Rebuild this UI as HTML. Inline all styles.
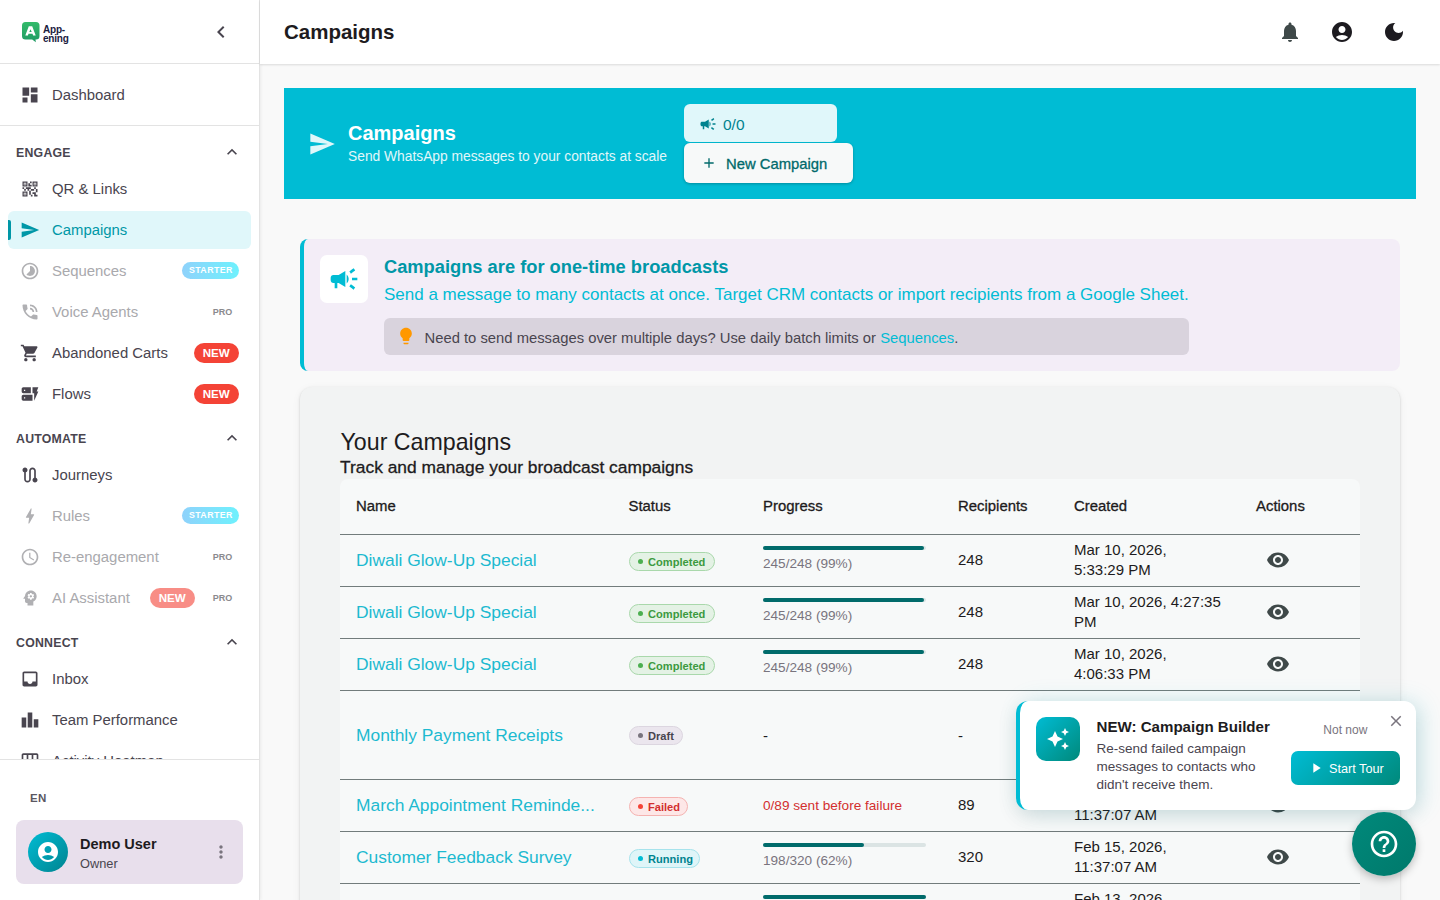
<!DOCTYPE html>
<html><head><meta charset="utf-8">
<style>
*{box-sizing:border-box;margin:0;padding:0}
html,body{width:1440px;height:900px;overflow:hidden;font-family:"Liberation Sans",sans-serif;background:#f9f9f9;color:#1d1b20}
svg{display:block}
#side{position:absolute;left:0;top:0;width:260px;height:900px;background:#fff;border-right:1px solid #e3e3e3;box-shadow:1px 0 3px rgba(0,0,0,.06);z-index:2}
#side .hd{position:absolute;left:0;top:0;width:259px;height:64px;border-bottom:1px solid #e3e3e3}
.nav{position:absolute;left:0;width:259px}
.it{position:absolute;left:8px;width:243px;height:38px;border-radius:6px}
.it svg{position:absolute;left:12px;top:9px;width:20px;height:20px;fill:#49454f}
.it .t{position:absolute;left:44px;top:0;line-height:38px;font-size:14.9px;color:#49454f;white-space:nowrap}
.it.dis svg{fill:#b0b0b3}
.it.dis .t{color:#a9a9ad}
.sec{position:absolute;left:16px;font-size:12.3px;font-weight:bold;letter-spacing:.25px;color:#49454f;margin-top:1.5px}
.chev{position:absolute;left:222px;margin-top:1px;width:20px;height:20px;fill:#49454f}
.badge-new{position:absolute;height:20px;line-height:20px;border-radius:10px;background:#f44336;color:#fff;font-size:11.6px;font-weight:bold;padding:0 8.75px;top:9px}
.badge-st{position:absolute;right:12px;top:10px;height:17px;line-height:17px;border-radius:9px;background:linear-gradient(90deg,#8fd2fb,#6ef1fd);color:#fff;font-size:8.8px;font-weight:bold;letter-spacing:.43px;padding:0 6.2px 0 6.7px}
.badge-pro{position:absolute;right:18.7px;top:0;line-height:38px;font-size:9px;font-weight:bold;letter-spacing:0;color:#8a8a8e}
#top{position:absolute;left:260px;top:0;width:1180px;height:64px;background:#fff;box-shadow:0 1px 2px rgba(0,0,0,.12);z-index:3}
#top h1{position:absolute;left:24px;top:0;line-height:64px;font-size:20.5px;font-weight:bold;color:#1d1b20}
.it.act{background:#e0f7fa}
.it.act svg{fill:#0097a7}
.it.act .t{color:#0097a7}
.it.act .bar{position:absolute;left:0;top:9px;width:3px;height:20px;background:#0097a7;border-radius:0 2px 2px 0}
.tx{position:absolute;white-space:nowrap}
.ic{position:absolute;display:block}
.bx{position:absolute;box-sizing:border-box}
</style></head>
<body>
<div id="side">
  <div class="hd">
    <svg style="position:absolute;left:21px;top:21px" width="50" height="24" viewBox="0 0 50 24">
      <defs><linearGradient id="lg" x1="0" y1="0" x2="0" y2="1"><stop offset="0" stop-color="#33bb6a"/><stop offset="1" stop-color="#1f9a63"/></linearGradient></defs>
      <path d="M4.5 1h10.5a3.5 3.5 0 0 1 3.5 3.5v10.5a3.5 3.5 0 0 1-3.5 3.5h-0.5l0.3 2.8-3.6-2.8h-6.7a3.5 3.5 0 0 1-3.5-3.5v-10.5a3.5 3.5 0 0 1 3.5-3.5z" fill="url(#lg)"/>
      <path d="M7.8 5.2h3.4l3.5 9.3h-2.6l-.6-1.8h-4l-.6 1.8h-2.6zm1.7 3-1.2 2.9h2.4z" fill="#fff"/>
    </svg>
    <div style="position:absolute;left:43px;top:26.2px;font-size:10px;line-height:8.6px;font-weight:bold;color:#1a2040;letter-spacing:-.2px">App-<br>ening</div>
    <svg style="position:absolute;left:209px;top:20px;fill:#49454f" width="24" height="24" viewBox="0 0 24 24"><path d="M15.41 7.41 14 6l-6 6 6 6 1.41-1.41L10.83 12z"/></svg>
  </div>
<div class="nav" style="top:0;height:900px">
<div class="it " style="top:76px"><svg viewBox="0 0 24 24"><path d="M3 13h8V3H3zm0 8h6v-6H3zm10 0h8V11h-8zm0-18v6h8V3z"/></svg><div class="t">Dashboard</div></div>
<div style="position:absolute;left:0;top:125px;width:259px;height:1px;background:#e3e3e3"></div>
<div id="navscroll" style="position:absolute;left:0;top:126px;width:259px;height:633px;overflow:hidden">
<div class="sec" style="top:17px;line-height:16px">ENGAGE</div><svg class="chev" style="top:15px" viewBox="0 0 24 24"><path d="m12 8-6 6 1.41 1.41L12 10.83l4.59 4.58L18 14z"/></svg>
<div class="it " style="top:44px"><svg viewBox="0 0 24 24"><path d="M15 21h-2v-2h2zm-2-7h-2v5h2zm8-2h-2v4h2zm-2-2h-2v2h2zM7 12H5v2h2zm-2-2H3v2h2zm7-5h2V3h-2zm-7.5-.5v3h3v-3zM9 9H3V3h6zm-4.5 7.5v3h3v-3zM9 21H3v-6h6zm7.5-16.5v3h3v-3zM21 9h-6V3h6zm-2 10v-3h-4v2h2v3h4v-2zm-2-7h-4v2h4zm-4-2H7v2h2v2h2v-2h2zm1-1V7h-2V5h-2v4zM6.75 5.25h-1.5v1.5h1.5zm0 12h-1.5v1.5h1.5zm12-12h-1.5v1.5h1.5z"/></svg><div class="t">QR &amp; Links</div></div>
<div class="it act" style="top:85px"><div class="bar"></div><svg viewBox="0 0 24 24"><path d="M2.01 21 23 12 2.01 3 2 10l15 2-15 2z"/></svg><div class="t">Campaigns</div></div>
<div class="it dis" style="top:126px"><svg viewBox="0 0 24 24"><path d="M16.24 7.76C15.07 6.59 13.54 6 12 6v6l-4.24 4.24c2.34 2.34 6.14 2.34 8.49 0 2.34-2.34 2.34-6.14-.01-8.48M12 2C6.48 2 2 6.48 2 12s4.48 10 10 10 10-4.48 10-10S17.52 2 12 2m0 18c-4.42 0-8-3.58-8-8s3.58-8 8-8 8 3.58 8 8-3.58 8-8 8"/></svg><div class="t">Sequences</div><div class="badge-st">STARTER</div></div>
<div class="it dis" style="top:167px"><svg viewBox="0 0 24 24"><path d="M20 15.5c-1.25 0-2.45-.2-3.57-.57-.35-.11-.74-.03-1.02.24l-2.2 2.2c-2.83-1.44-5.15-3.75-6.59-6.59l2.2-2.21c.28-.26.36-.65.25-1C8.7 6.45 8.5 5.25 8.5 4c0-.55-.45-1-1-1H4c-.55 0-1 .45-1 1 0 9.39 7.61 17 17 17 .55 0 1-.45 1-1v-3.5c0-.55-.45-1-1-1M19 12h2c0-4.97-4.03-9-9-9v2c3.87 0 7 3.13 7 7m-4 0h2c0-2.76-2.24-5-5-5v2c1.66 0 3 1.34 3 3"/></svg><div class="t">Voice Agents</div><div class="badge-pro">PRO</div></div>
<div class="it " style="top:208px"><svg viewBox="0 0 24 24"><path d="M7 18c-1.1 0-1.99.9-1.99 2S5.9 22 7 22s2-.9 2-2-.9-2-2-2M1 2v2h2l3.6 7.59-1.35 2.45c-.16.28-.25.61-.25.96 0 1.1.9 2 2 2h12v-2H7.42c-.14 0-.25-.11-.25-.25l.03-.12.9-1.63h7.45c.75 0 1.41-.41 1.75-1.03l3.58-6.49c.08-.14.12-.31.12-.48 0-.55-.45-1-1-1H5.21l-.94-2zm16 16c-1.1 0-1.99.9-1.99 2s.89 2 1.99 2 2-.9 2-2-.9-2-2-2"/></svg><div class="t">Abandoned Carts</div><div class="badge-new" style="left:186px">NEW</div></div>
<div class="it " style="top:249px"><svg viewBox="0 0 24 24"><path d="M17 20v-9h-2V4h7l-2 5h2zm-2-7v7H4c-1.1 0-2-.9-2-2v-3c0-1.1.9-2 2-2zm-8.75 2.75h-1.5v1.5h1.5zM13 4v7H4c-1.1 0-2-.9-2-2V6c0-1.1.9-2 2-2zM6.25 6.75h-1.5v1.5h1.5z"/></svg><div class="t">Flows</div><div class="badge-new" style="left:186px">NEW</div></div>
<div class="sec" style="top:303px;line-height:16px">AUTOMATE</div><svg class="chev" style="top:301px" viewBox="0 0 24 24"><path d="m12 8-6 6 1.41 1.41L12 10.83l4.59 4.58L18 14z"/></svg>
<div class="it " style="top:330px"><svg viewBox="0 0 24 24"><path d="M19 15.18V7c0-2.21-1.79-4-4-4s-4 1.79-4 4v10c0 1.1-.9 2-2 2s-2-.9-2-2V8.82C8.16 8.4 9 7.3 9 6c0-1.66-1.34-3-3-3S3 4.34 3 6c0 1.3.84 2.4 2 2.82V17c0 2.21 1.79 4 4 4s4-1.79 4-4V7c0-1.1.9-2 2-2s2 .9 2 2v8.18c-1.16.41-2 1.51-2 2.82 0 1.66 1.34 3 3 3s3-1.34 3-3c0-1.3-.84-2.4-2-2.82"/></svg><div class="t">Journeys</div></div>
<div class="it dis" style="top:371px"><svg viewBox="0 0 24 24"><path d="M11 21h-1l1-7H7.5c-.58 0-.57-.32-.38-.66.19-.34.05-.08.07-.12C8.48 10.94 10.42 7.54 13 3h1l-1 7h3.5c.49 0 .56.33.47.51l-.07.15C12.96 17.55 11 21 11 21"/></svg><div class="t">Rules</div><div class="badge-st">STARTER</div></div>
<div class="it dis" style="top:412px"><svg viewBox="0 0 24 24"><path d="M11.99 2C6.47 2 2 6.48 2 12s4.47 10 9.99 10C17.52 22 22 17.52 22 12S17.52 2 11.99 2M12 20c-4.42 0-8-3.58-8-8s3.58-8 8-8 8 3.58 8 8-3.58 8-8 8m.5-13H11v6l5.25 3.15.75-1.23-4.5-2.67z"/></svg><div class="t">Re-engagement</div><div class="badge-pro">PRO</div></div>
<div class="it dis" style="top:453px"><svg viewBox="0 0 24 24"><path d="M13 8.57c-.79 0-1.43.64-1.43 1.43s.64 1.43 1.43 1.43 1.43-.64 1.43-1.43-.64-1.43-1.43-1.43M13 3C9.25 3 6.2 5.94 6.02 9.64L4.1 12.2c-.25.33-.01.8.4.8H6v3c0 1.1.9 2 2 2h1v3h7v-4.68c2.36-1.12 4-3.53 4-6.32 0-3.87-3.13-7-7-7m3 7c0 .13-.01.26-.02.38l.83.66c.08.06.1.16.05.25l-.8 1.39c-.05.09-.16.12-.24.09l-.99-.4c-.21.16-.43.29-.67.39L14 13.83c-.01.1-.1.17-.2.17h-1.6c-.1 0-.18-.07-.2-.17l-.15-1.06c-.25-.1-.47-.23-.68-.39l-.99.4c-.09.03-.2 0-.25-.09l-.8-1.39c-.05-.08-.03-.19.05-.25l.84-.66c-.01-.13-.02-.25-.02-.38 0-.13.02-.26.04-.38l-.85-.66c-.08-.06-.1-.16-.05-.26l.8-1.38c.05-.09.15-.12.24-.09l1 .4c.2-.15.43-.29.67-.39L12 6.17c.02-.1.1-.17.2-.17h1.6c.1 0 .18.07.2.17l.15 1.06c.24.1.46.23.67.39l1-.4c.09-.03.2 0 .24.09l.8 1.38c.05.09.03.2-.05.26l-.85.66c.03.12.04.25.04.38"/></svg><div class="t">AI Assistant</div><div class="badge-new" style="left:142px;opacity:.6">NEW</div><div class="badge-pro">PRO</div></div>
<div class="sec" style="top:507px;line-height:16px">CONNECT</div><svg class="chev" style="top:505px" viewBox="0 0 24 24"><path d="m12 8-6 6 1.41 1.41L12 10.83l4.59 4.58L18 14z"/></svg>
<div class="it " style="top:534px"><svg viewBox="0 0 24 24"><path d="M19 3H4.99c-1.11 0-1.98.89-1.98 2L3 19c0 1.1.88 2 1.99 2H19c1.1 0 2-.9 2-2V5c0-1.11-.9-2-2-2m0 12h-4c0 1.66-1.35 3-3 3s-3-1.34-3-3H4.99V5H19z"/></svg><div class="t">Inbox</div></div>
<div class="it " style="top:575px"><svg viewBox="0 0 24 24"><path d="M7.5 21H2V9h5.5zm7.25-18h-5.5v18h5.5zM22 11h-5.5v10H22z"/></svg><div class="t">Team Performance</div></div>
<div class="it " style="top:616px"><svg viewBox="0 0 24 24" style="top:7.5px"><path d="M20 4H4c-1.1 0-2 .9-2 2v12c0 1.1.9 2 2 2h16c1.1 0 2-.9 2-2V6c0-1.1-.9-2-2-2M8 11H4V6h4zm6 0h-4V6h4zm6 0h-4V6h4zM8 18H4v-5h4zm6 0h-4v-5h4zm6 0h-4v-5h4z"/></svg><div class="t">Activity Heatmap</div></div>
</div>
<div style="position:absolute;left:0;top:759px;width:259px;height:1px;background:#e3e3e3"></div>
<div style="position:absolute;left:30px;top:792px;font-size:11.5px;font-weight:bold;letter-spacing:.3px;color:#5b5762">EN</div>
<div style="position:absolute;left:16px;top:820px;width:227px;height:64px;border-radius:8px;background:#e8dfec">
<div style="position:absolute;left:12px;top:12px;width:40px;height:40px;border-radius:50%;background:linear-gradient(135deg,#00bcd4,#00838f)"><svg style="position:absolute;left:8px;top:8px;fill:#fff" width="24" height="24" viewBox="0 0 24 24"><path d="M12 2C6.48 2 2 6.48 2 12s4.48 10 10 10 10-4.48 10-10S17.52 2 12 2m0 4c1.93 0 3.5 1.57 3.5 3.5S13.93 13 12 13s-3.5-1.57-3.5-3.5S10.07 6 12 6m0 14c-2.03 0-4.43-.82-6.14-2.88C7.55 15.8 9.68 15 12 15s4.45.8 6.14 2.12C16.43 19.18 14.03 20 12 20"/></svg></div>
<div style="position:absolute;left:64px;top:16px;font-size:14.5px;font-weight:bold;color:#1d1b20">Demo User</div>
<div style="position:absolute;left:64px;top:36px;font-size:12.8px;color:#49454f">Owner</div>
<svg style="position:absolute;left:195px;top:22px;fill:#79747e" width="20" height="20" viewBox="0 0 24 24"><path d="M12 8c1.1 0 2-.9 2-2s-.9-2-2-2-2 .9-2 2 .9 2 2 2m0 2c-1.1 0-2 .9-2 2s.9 2 2 2 2-.9 2-2-.9-2-2-2m0 6c-1.1 0-2 .9-2 2s.9 2 2 2 2-.9 2-2-.9-2-2-2"/></svg>
</div>
</div>
</div>
<div id="top"><h1>Campaigns</h1></div>
<div id="main" style="position:absolute;left:0;top:0;width:1440px;height:900px;z-index:4;pointer-events:none">
<svg class="ic" style="left:1278px;top:20px;width:24px;height:24px;fill:#3f4949;" viewBox="0 0 24 24"><path d="M12 22c1.1 0 2-.9 2-2h-4c0 1.1.89 2 2 2m6-6v-5c0-3.07-1.64-5.64-4.5-6.32V4c0-.83-.67-1.5-1.5-1.5s-1.5.67-1.5 1.5v.68C7.63 5.36 6 7.92 6 11v5l-2 2v1h16v-1z"/></svg>
<svg class="ic" style="left:1330px;top:20px;width:24px;height:24px;fill:#1d1b20;" viewBox="0 0 24 24"><path d="M12 2C6.48 2 2 6.48 2 12s4.48 10 10 10 10-4.48 10-10S17.52 2 12 2m0 4c1.93 0 3.5 1.57 3.5 3.5S13.93 13 12 13s-3.5-1.57-3.5-3.5S10.07 6 12 6m0 14c-2.03 0-4.43-.82-6.14-2.88C7.55 15.8 9.68 15 12 15s4.45.8 6.14 2.12C16.43 19.18 14.03 20 12 20"/></svg>
<svg class="ic" style="left:1382px;top:20px;width:24px;height:24px;fill:#1d1b20;" viewBox="0 0 24 24"><path d="M12 3c-4.97 0-9 4.03-9 9s4.03 9 9 9 9-4.03 9-9c0-.46-.04-.92-.1-1.36-.98 1.37-2.58 2.26-4.4 2.26-2.98 0-5.4-2.42-5.4-5.4 0-1.81.89-3.42 2.26-4.4-.44-.06-.9-.1-1.36-.1"/></svg>
<div class="bx" style="left:284px;top:88px;width:1132px;height:111px;background:#00bcd4"></div>
<svg class="ic" style="left:307.7px;top:130.4px;width:28px;height:28px;fill:#e0f7fa;" viewBox="0 0 24 24"><path d="M2.01 21 23 12 2.01 3 2 10l15 2-15 2z"/></svg>
<div class="tx" style="left:348px;top:120.47px;font-size:20px;line-height:26px;color:#fff;font-weight:bold;letter-spacing:0px;">Campaigns</div>
<div class="tx" style="left:348px;top:148.22px;font-size:13.8px;line-height:18px;color:#e0f7fa;font-weight:normal;letter-spacing:0px;">Send WhatsApp messages to your contacts at scale</div>
<div class="bx" style="left:684px;top:104px;width:153px;height:38px;background:#e0f7fa;border-radius:6px"></div>
<svg class="ic" style="left:698.5px;top:114.5px;width:18px;height:18px;fill:#00838f;" viewBox="0 0 24 24"><path d="M18 11v2h4v-2zm-2 6.61c.96.71 2.21 1.65 3.2 2.39.4-.53.8-1.07 1.2-1.6-.99-.74-2.24-1.68-3.2-2.4-.4.54-.8 1.08-1.2 1.61M20.4 5.6c-.4-.53-.8-1.07-1.2-1.6-.99.74-2.24 1.68-3.2 2.4.4.53.8 1.07 1.2 1.6.96-.72 2.21-1.65 3.2-2.4M4 9c-1.1 0-2 .9-2 2v2c0 1.1.9 2 2 2h1v4h2v-4h1l5 3V6L8 9zm11.5 3c0-1.33-.58-2.53-1.5-3.35v6.69c.92-.81 1.5-2.01 1.5-3.34"/></svg>
<div class="tx" style="left:723px;top:114.63px;font-size:15.5px;line-height:20px;color:#00838f;font-weight:normal;letter-spacing:0px;">0/0</div>
<div class="bx" style="left:684px;top:143px;width:169px;height:40px;background:#f7f9f9;border-radius:6px;box-shadow:0 1px 3px rgba(0,0,0,.25)"></div>
<svg class="ic" style="left:700.5px;top:155px;width:16px;height:16px;fill:#00696b;" viewBox="0 0 24 24"><path d="M19 13h-6v6h-2v-6H5v-2h6V5h2v6h6z"/></svg>
<div class="tx" style="left:726px;top:155.47px;font-size:14.8px;line-height:19px;color:#00696b;font-weight:normal;letter-spacing:0px;-webkit-text-stroke:.3px #00696b">New Campaign</div>
<div class="bx" style="left:300px;top:239px;width:1100px;height:132px;background:#f3edf7;border-radius:8px;border-left:4px solid #00bcd4"></div>
<div class="bx" style="left:320px;top:255px;width:48px;height:48px;background:#fff;border-radius:7px"></div>
<svg class="ic" style="left:328px;top:263px;width:32px;height:32px;fill:#00bcd4;" viewBox="0 0 24 24"><path d="M18 11v2h4v-2zm-2 6.61c.96.71 2.21 1.65 3.2 2.39.4-.53.8-1.07 1.2-1.6-.99-.74-2.24-1.68-3.2-2.4-.4.54-.8 1.08-1.2 1.61M20.4 5.6c-.4-.53-.8-1.07-1.2-1.6-.99.74-2.24 1.68-3.2 2.4.4.53.8 1.07 1.2 1.6.96-.72 2.21-1.65 3.2-2.4M4 9c-1.1 0-2 .9-2 2v2c0 1.1.9 2 2 2h1v4h2v-4h1l5 3V6L8 9zm11.5 3c0-1.33-.58-2.53-1.5-3.35v6.69c.92-.81 1.5-2.01 1.5-3.34"/></svg>
<div class="tx" style="left:384px;top:255.36px;font-size:18.3px;line-height:24px;color:#0097a7;font-weight:bold;letter-spacing:0px;">Campaigns are for one-time broadcasts</div>
<div class="tx" style="left:384px;top:284.31px;font-size:17px;line-height:22px;color:#00bcd4;font-weight:normal;letter-spacing:0px;">Send a message to many contacts at once. Target CRM contacts or import recipients from a Google Sheet.</div>
<div class="bx" style="left:384px;top:318px;width:805px;height:37px;background:#d9d3dd;border-radius:6px"></div>
<svg class="ic" style="left:396px;top:326px;width:20px;height:20px;fill:#ff9800;" viewBox="0 0 24 24"><path d="M9 21c0 .55.45 1 1 1h4c.55 0 1-.45 1-1v-1H9zm3-19C8.14 2 5 5.14 5 9c0 2.38 1.19 4.47 3 5.74V17c0 .55.45 1 1 1h6c.55 0 1-.45 1-1v-2.26c1.81-1.27 3-3.36 3-5.74 0-3.86-3.14-7-7-7"/></svg>
<div class="tx" style="left:424.5px;top:329.37px;font-size:14.8px;line-height:19px;color:#49454f;font-weight:normal;letter-spacing:0px;">Need to send messages over multiple days? Use daily batch limits or <span style="color:#00bcd4">Sequences</span>.</div>
<div class="bx" style="left:300px;top:387px;width:1100px;height:560px;background:#f2f3f3;border-radius:12px;box-shadow:0 2px 1px -1px rgba(0,0,0,.2),0 1px 1px 0 rgba(0,0,0,.14),0 1px 3px 0 rgba(0,0,0,.12),0 2px 10px rgba(0,0,0,.05)"></div>
<div class="tx" style="left:340.5px;top:426.66px;font-size:23.2px;line-height:30px;color:#1d1b20;font-weight:normal;letter-spacing:0px;">Your Campaigns</div>
<div class="tx" style="left:340px;top:456.37px;font-size:17.4px;line-height:23px;color:#1d1b20;font-weight:normal;letter-spacing:0px;-webkit-text-stroke:.3px #1d1b20">Track and manage your broadcast campaigns</div>
<div class="bx" style="left:340px;top:479px;width:1020px;height:460px;background:#f7f9f9;border-radius:8px 8px 0 0"></div>
<div class="tx" style="left:356px;top:497.34px;font-size:14.9px;line-height:19px;color:#1d1b20;font-weight:normal;letter-spacing:0px;-webkit-text-stroke:.3px #1d1b20">Name</div>
<div class="tx" style="left:628.5px;top:497.34px;font-size:14.9px;line-height:19px;color:#1d1b20;font-weight:normal;letter-spacing:0px;-webkit-text-stroke:.3px #1d1b20">Status</div>
<div class="tx" style="left:763px;top:497.34px;font-size:14.9px;line-height:19px;color:#1d1b20;font-weight:normal;letter-spacing:0px;-webkit-text-stroke:.3px #1d1b20">Progress</div>
<div class="tx" style="left:958px;top:497.34px;font-size:14.9px;line-height:19px;color:#1d1b20;font-weight:normal;letter-spacing:0px;-webkit-text-stroke:.3px #1d1b20">Recipients</div>
<div class="tx" style="left:1074px;top:497.34px;font-size:14.9px;line-height:19px;color:#1d1b20;font-weight:normal;letter-spacing:0px;-webkit-text-stroke:.3px #1d1b20">Created</div>
<div class="tx" style="left:1256px;top:497.34px;font-size:14.9px;line-height:19px;color:#1d1b20;font-weight:normal;letter-spacing:0px;-webkit-text-stroke:.3px #1d1b20">Actions</div>
<div class="bx" style="left:340px;top:534px;width:1020px;height:1px;background:#727c7c"></div>
<div class="bx" style="left:340px;top:586px;width:1020px;height:1px;background:#727c7c"></div>
<div class="bx" style="left:340px;top:638px;width:1020px;height:1px;background:#727c7c"></div>
<div class="bx" style="left:340px;top:690px;width:1020px;height:1px;background:#727c7c"></div>
<div class="bx" style="left:340px;top:779px;width:1020px;height:1px;background:#727c7c"></div>
<div class="bx" style="left:340px;top:831px;width:1020px;height:1px;background:#727c7c"></div>
<div class="bx" style="left:340px;top:883px;width:1020px;height:1px;background:#727c7c"></div>
<div class="tx" style="left:356px;top:549.37px;font-size:17.4px;line-height:23px;color:#1dbad0;font-weight:normal;letter-spacing:0px;">Diwali Glow-Up Special</div>
<div class="bx" style="left:629px;top:551.8px;width:86px;height:19px;background:#e4f2e5;border:1px solid #a9d8ab;border-radius:10px"></div>
<div class="bx" style="left:638px;top:558.8px;width:5px;height:5px;background:#4caf50;border-radius:50%"></div>
<div class="tx" style="left:648px;top:554.85px;font-size:11.1px;line-height:14px;color:#3c9a40;font-weight:bold;letter-spacing:0px;">Completed</div>
<div class="bx" style="left:763px;top:546px;width:163px;height:4px;background:#dbe4e4;border-radius:2px"></div>
<div class="bx" style="left:763px;top:546px;width:161px;height:4px;background:#006b6b;border-radius:2px"></div>
<div class="tx" style="left:763px;top:555.09px;font-size:13.6px;line-height:18px;color:#79747e;font-weight:normal;letter-spacing:0px;">245/248 (99%)</div>
<div class="tx" style="left:958px;top:549.80px;font-size:15px;line-height:20px;color:#1d1b20;font-weight:normal;letter-spacing:0px;">248</div>
<div class="tx" style="left:1074px;top:539.80px;font-size:15px;line-height:20px;color:#1d1b20;font-weight:normal;letter-spacing:0px;">Mar 10, 2026,</div>
<div class="tx" style="left:1074px;top:559.80px;font-size:15px;line-height:20px;color:#1d1b20;font-weight:normal;letter-spacing:0px;">5:33:29 PM</div>
<svg class="ic" style="left:1266px;top:547.5px;width:24px;height:24px;fill:#3f4949;" viewBox="0 0 24 24"><path d="M12 4.5C7 4.5 2.73 7.61 1 12c1.73 4.39 6 7.5 11 7.5s9.27-3.11 11-7.5c-1.73-4.39-6-7.5-11-7.5M12 17c-2.76 0-5-2.24-5-5s2.24-5 5-5 5 2.24 5 5-2.24 5-5 5m0-8c-1.66 0-3 1.34-3 3s1.34 3 3 3 3-1.34 3-3-1.34-3-3-3"/></svg>
<div class="tx" style="left:356px;top:601.37px;font-size:17.4px;line-height:23px;color:#1dbad0;font-weight:normal;letter-spacing:0px;">Diwali Glow-Up Special</div>
<div class="bx" style="left:629px;top:603.8px;width:86px;height:19px;background:#e4f2e5;border:1px solid #a9d8ab;border-radius:10px"></div>
<div class="bx" style="left:638px;top:610.8px;width:5px;height:5px;background:#4caf50;border-radius:50%"></div>
<div class="tx" style="left:648px;top:606.85px;font-size:11.1px;line-height:14px;color:#3c9a40;font-weight:bold;letter-spacing:0px;">Completed</div>
<div class="bx" style="left:763px;top:598px;width:163px;height:4px;background:#dbe4e4;border-radius:2px"></div>
<div class="bx" style="left:763px;top:598px;width:161px;height:4px;background:#006b6b;border-radius:2px"></div>
<div class="tx" style="left:763px;top:607.09px;font-size:13.6px;line-height:18px;color:#79747e;font-weight:normal;letter-spacing:0px;">245/248 (99%)</div>
<div class="tx" style="left:958px;top:601.80px;font-size:15px;line-height:20px;color:#1d1b20;font-weight:normal;letter-spacing:0px;">248</div>
<div class="tx" style="left:1074px;top:591.80px;font-size:15px;line-height:20px;color:#1d1b20;font-weight:normal;letter-spacing:0px;">Mar 10, 2026, 4:27:35</div>
<div class="tx" style="left:1074px;top:611.80px;font-size:15px;line-height:20px;color:#1d1b20;font-weight:normal;letter-spacing:0px;">PM</div>
<svg class="ic" style="left:1266px;top:599.5px;width:24px;height:24px;fill:#3f4949;" viewBox="0 0 24 24"><path d="M12 4.5C7 4.5 2.73 7.61 1 12c1.73 4.39 6 7.5 11 7.5s9.27-3.11 11-7.5c-1.73-4.39-6-7.5-11-7.5M12 17c-2.76 0-5-2.24-5-5s2.24-5 5-5 5 2.24 5 5-2.24 5-5 5m0-8c-1.66 0-3 1.34-3 3s1.34 3 3 3 3-1.34 3-3-1.34-3-3-3"/></svg>
<div class="tx" style="left:356px;top:653.37px;font-size:17.4px;line-height:23px;color:#1dbad0;font-weight:normal;letter-spacing:0px;">Diwali Glow-Up Special</div>
<div class="bx" style="left:629px;top:655.8px;width:86px;height:19px;background:#e4f2e5;border:1px solid #a9d8ab;border-radius:10px"></div>
<div class="bx" style="left:638px;top:662.8px;width:5px;height:5px;background:#4caf50;border-radius:50%"></div>
<div class="tx" style="left:648px;top:658.85px;font-size:11.1px;line-height:14px;color:#3c9a40;font-weight:bold;letter-spacing:0px;">Completed</div>
<div class="bx" style="left:763px;top:650px;width:163px;height:4px;background:#dbe4e4;border-radius:2px"></div>
<div class="bx" style="left:763px;top:650px;width:161px;height:4px;background:#006b6b;border-radius:2px"></div>
<div class="tx" style="left:763px;top:659.09px;font-size:13.6px;line-height:18px;color:#79747e;font-weight:normal;letter-spacing:0px;">245/248 (99%)</div>
<div class="tx" style="left:958px;top:653.80px;font-size:15px;line-height:20px;color:#1d1b20;font-weight:normal;letter-spacing:0px;">248</div>
<div class="tx" style="left:1074px;top:643.80px;font-size:15px;line-height:20px;color:#1d1b20;font-weight:normal;letter-spacing:0px;">Mar 10, 2026,</div>
<div class="tx" style="left:1074px;top:663.80px;font-size:15px;line-height:20px;color:#1d1b20;font-weight:normal;letter-spacing:0px;">4:06:33 PM</div>
<svg class="ic" style="left:1266px;top:651.5px;width:24px;height:24px;fill:#3f4949;" viewBox="0 0 24 24"><path d="M12 4.5C7 4.5 2.73 7.61 1 12c1.73 4.39 6 7.5 11 7.5s9.27-3.11 11-7.5c-1.73-4.39-6-7.5-11-7.5M12 17c-2.76 0-5-2.24-5-5s2.24-5 5-5 5 2.24 5 5-2.24 5-5 5m0-8c-1.66 0-3 1.34-3 3s1.34 3 3 3 3-1.34 3-3-1.34-3-3-3"/></svg>
<div class="tx" style="left:356px;top:723.87px;font-size:17.4px;line-height:23px;color:#1dbad0;font-weight:normal;letter-spacing:0px;">Monthly Payment Receipts</div>
<div class="bx" style="left:629px;top:726.3px;width:54px;height:19px;background:#ebe6ee;border:1px solid #dcd6e0;border-radius:10px"></div>
<div class="bx" style="left:638px;top:733.3px;width:5px;height:5px;background:#79747e;border-radius:50%"></div>
<div class="tx" style="left:648px;top:729.35px;font-size:11.1px;line-height:14px;color:#49454f;font-weight:bold;letter-spacing:0px;">Draft</div>
<div class="tx" style="left:763px;top:725.80px;font-size:15px;line-height:20px;color:#1d1b20;font-weight:normal;letter-spacing:0px;">-</div>
<div class="tx" style="left:958px;top:725.80px;font-size:15px;line-height:20px;color:#1d1b20;font-weight:normal;letter-spacing:0px;">-</div>
<div class="tx" style="left:1074px;top:715.80px;font-size:15px;line-height:20px;color:#1d1b20;font-weight:normal;letter-spacing:0px;">Feb 20, 2026,</div>
<div class="tx" style="left:1074px;top:735.80px;font-size:15px;line-height:20px;color:#1d1b20;font-weight:normal;letter-spacing:0px;">9:12:44 AM</div>
<svg class="ic" style="left:1266px;top:722px;width:24px;height:24px;fill:#3f4949;" viewBox="0 0 24 24"><path d="M12 4.5C7 4.5 2.73 7.61 1 12c1.73 4.39 6 7.5 11 7.5s9.27-3.11 11-7.5c-1.73-4.39-6-7.5-11-7.5M12 17c-2.76 0-5-2.24-5-5s2.24-5 5-5 5 2.24 5 5-2.24 5-5 5m0-8c-1.66 0-3 1.34-3 3s1.34 3 3 3 3-1.34 3-3-1.34-3-3-3"/></svg>
<div class="tx" style="left:356px;top:794.37px;font-size:17.4px;line-height:23px;color:#1dbad0;font-weight:normal;letter-spacing:0px;">March Appointment Reminde...</div>
<div class="bx" style="left:629px;top:796.8px;width:59px;height:19px;background:#fde7e7;border:1px solid #f5b3b1;border-radius:10px"></div>
<div class="bx" style="left:638px;top:803.8px;width:5px;height:5px;background:#f44336;border-radius:50%"></div>
<div class="tx" style="left:648px;top:799.85px;font-size:11.1px;line-height:14px;color:#d32f2f;font-weight:bold;letter-spacing:0px;">Failed</div>
<div class="tx" style="left:763px;top:797.09px;font-size:13.6px;line-height:18px;color:#d32f2f;font-weight:normal;letter-spacing:0px;">0/89 sent before failure</div>
<div class="tx" style="left:958px;top:794.80px;font-size:15px;line-height:20px;color:#1d1b20;font-weight:normal;letter-spacing:0px;">89</div>
<div class="tx" style="left:1074px;top:784.80px;font-size:15px;line-height:20px;color:#1d1b20;font-weight:normal;letter-spacing:0px;">Feb 15, 2026,</div>
<div class="tx" style="left:1074px;top:804.80px;font-size:15px;line-height:20px;color:#1d1b20;font-weight:normal;letter-spacing:0px;">11:37:07 AM</div>
<svg class="ic" style="left:1266px;top:792.5px;width:24px;height:24px;fill:#3f4949;" viewBox="0 0 24 24"><path d="M12 4.5C7 4.5 2.73 7.61 1 12c1.73 4.39 6 7.5 11 7.5s9.27-3.11 11-7.5c-1.73-4.39-6-7.5-11-7.5M12 17c-2.76 0-5-2.24-5-5s2.24-5 5-5 5 2.24 5 5-2.24 5-5 5m0-8c-1.66 0-3 1.34-3 3s1.34 3 3 3 3-1.34 3-3-1.34-3-3-3"/></svg>
<div class="tx" style="left:356px;top:846.37px;font-size:17.4px;line-height:23px;color:#1dbad0;font-weight:normal;letter-spacing:0px;">Customer Feedback Survey</div>
<div class="bx" style="left:629px;top:848.8px;width:71px;height:19px;background:#dff5f8;border:1px solid #a6e3ec;border-radius:10px"></div>
<div class="bx" style="left:638px;top:855.8px;width:5px;height:5px;background:#00bcd4;border-radius:50%"></div>
<div class="tx" style="left:648px;top:851.85px;font-size:11.1px;line-height:14px;color:#00838f;font-weight:bold;letter-spacing:0px;">Running</div>
<div class="bx" style="left:763px;top:843px;width:163px;height:4px;background:#dbe4e4;border-radius:2px"></div>
<div class="bx" style="left:763px;top:843px;width:101px;height:4px;background:#006b6b;border-radius:2px"></div>
<div class="tx" style="left:763px;top:852.09px;font-size:13.6px;line-height:18px;color:#79747e;font-weight:normal;letter-spacing:0px;">198/320 (62%)</div>
<div class="tx" style="left:958px;top:846.80px;font-size:15px;line-height:20px;color:#1d1b20;font-weight:normal;letter-spacing:0px;">320</div>
<div class="tx" style="left:1074px;top:836.80px;font-size:15px;line-height:20px;color:#1d1b20;font-weight:normal;letter-spacing:0px;">Feb 15, 2026,</div>
<div class="tx" style="left:1074px;top:856.80px;font-size:15px;line-height:20px;color:#1d1b20;font-weight:normal;letter-spacing:0px;">11:37:07 AM</div>
<svg class="ic" style="left:1266px;top:844.5px;width:24px;height:24px;fill:#3f4949;" viewBox="0 0 24 24"><path d="M12 4.5C7 4.5 2.73 7.61 1 12c1.73 4.39 6 7.5 11 7.5s9.27-3.11 11-7.5c-1.73-4.39-6-7.5-11-7.5M12 17c-2.76 0-5-2.24-5-5s2.24-5 5-5 5 2.24 5 5-2.24 5-5 5m0-8c-1.66 0-3 1.34-3 3s1.34 3 3 3 3-1.34 3-3-1.34-3-3-3"/></svg>
<div class="tx" style="left:356px;top:898.37px;font-size:17.4px;line-height:23px;color:#1dbad0;font-weight:normal;letter-spacing:0px;">Weekend Flash Sale</div>
<div class="bx" style="left:629px;top:900.8px;width:86px;height:19px;background:#e4f2e5;border:1px solid #a9d8ab;border-radius:10px"></div>
<div class="bx" style="left:638px;top:907.8px;width:5px;height:5px;background:#4caf50;border-radius:50%"></div>
<div class="tx" style="left:648px;top:903.85px;font-size:11.1px;line-height:14px;color:#3c9a40;font-weight:bold;letter-spacing:0px;">Completed</div>
<div class="bx" style="left:763px;top:895px;width:163px;height:4px;background:#dbe4e4;border-radius:2px"></div>
<div class="bx" style="left:763px;top:895px;width:163px;height:4px;background:#006b6b;border-radius:2px"></div>
<div class="tx" style="left:763px;top:904.09px;font-size:13.6px;line-height:18px;color:#79747e;font-weight:normal;letter-spacing:0px;">512/512 (100%)</div>
<div class="tx" style="left:958px;top:898.80px;font-size:15px;line-height:20px;color:#1d1b20;font-weight:normal;letter-spacing:0px;">512</div>
<div class="tx" style="left:1074px;top:888.80px;font-size:15px;line-height:20px;color:#1d1b20;font-weight:normal;letter-spacing:0px;">Feb 13, 2026,</div>
<div class="tx" style="left:1074px;top:909.80px;font-size:15px;line-height:20px;color:#1d1b20;font-weight:normal;letter-spacing:0px;">2:15:40 PM</div>
<div class="bx" style="left:1016px;top:701px;width:400px;height:108.5px;background:#fff;border-radius:12px;border-left:4px solid #00bcd4;box-shadow:0 6px 20px rgba(0,0,0,.11),6px 0 24px rgba(0,188,212,.14)"></div>
<div class="bx" style="left:1036px;top:717px;width:44px;height:44px;background:linear-gradient(135deg,#00bcd4,#00897b);border-radius:10px"></div>
<svg class="ic" style="left:1046px;top:727px;width:24px;height:24px;fill:#fff;" viewBox="0 0 24 24"><path d="m19 9 1.25-2.75L23 5l-2.75-1.25L19 1l-1.25 2.75L15 5l2.75 1.25zm-7.5.5L9 4 6.5 9.5 1 12l5.5 2.5L9 20l2.5-5.5L17 12zM19 15l-1.25 2.75L15 19l2.75 1.25L19 23l1.25-2.75L23 19l-2.75-1.25z"/></svg>
<div class="tx" style="left:1096.5px;top:716.67px;font-size:15.1px;line-height:20px;color:#1d1b20;font-weight:bold;letter-spacing:0px;">NEW: Campaign Builder</div>
<div class="tx" style="left:1096.5px;top:740.12px;font-size:13.5px;line-height:18px;color:#49454f;font-weight:normal;letter-spacing:0px;">Re-send failed campaign</div>
<div class="tx" style="left:1096.5px;top:757.92px;font-size:13.5px;line-height:18px;color:#49454f;font-weight:normal;letter-spacing:0px;">messages to contacts who</div>
<div class="tx" style="left:1096.5px;top:775.72px;font-size:13.5px;line-height:18px;color:#49454f;font-weight:normal;letter-spacing:0px;">didn't receive them.</div>
<div class="tx" style="left:1323.3px;top:722.04px;font-size:12px;line-height:16px;color:#79747e;font-weight:normal;letter-spacing:0px;">Not now</div>
<svg class="ic" style="left:1387px;top:712px;width:18px;height:18px;fill:#79747e;" viewBox="0 0 24 24"><path d="M19 6.41 17.59 5 12 10.59 6.41 5 5 6.41 10.59 12 5 17.59 6.41 19 12 13.41 17.59 19 19 17.59 13.41 12z"/></svg>
<div class="bx" style="left:1291px;top:751px;width:109px;height:34px;background:linear-gradient(135deg,#00bcd4,#00897b);border-radius:7px"></div>
<svg class="ic" style="left:1308px;top:760px;width:16px;height:16px;fill:#fff;" viewBox="0 0 24 24"><path d="M8 5v14l11-7z"/></svg>
<div class="tx" style="left:1329px;top:760.70px;font-size:12.7px;line-height:17px;color:#fff;font-weight:normal;letter-spacing:0px;">Start Tour</div>
<div class="bx" style="left:1352px;top:812px;width:64px;height:64px;background:linear-gradient(135deg,#00897b,#00796b);border-radius:50%;box-shadow:0 3px 8px rgba(0,0,0,.25)"></div>
<svg class="ic" style="left:1368px;top:828px;width:32px;height:32px;fill:#fff;" viewBox="0 0 24 24"><path d="M11 18h2v-2h-2zm1-16C6.48 2 2 6.48 2 12s4.48 10 10 10 10-4.48 10-10S17.52 2 12 2m0 18c-4.41 0-8-3.59-8-8s3.59-8 8-8 8 3.59 8 8-3.59 8-8 8m0-14c-2.21 0-4 1.79-4 4h2c0-1.1.9-2 2-2s2 .9 2 2c0 2-3 1.75-3 5h2c0-2.25 3-2.5 3-5 0-2.21-1.79-4-4-4"/></svg>
</div>
</body></html>
